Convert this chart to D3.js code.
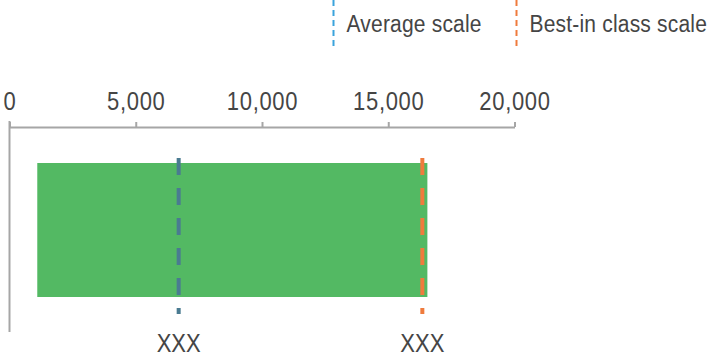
<!DOCTYPE html>
<html>
<head>
<meta charset="utf-8">
<script src="https://cdn.jsdelivr.net/npm/d3@7"></script>
<style>
  html, body { margin: 0; padding: 0; background: #ffffff; }
  svg { display: block; }
  text { font-family: "Liberation Sans", Arial, sans-serif; fill: #454545; }
</style>
</head>
<body>
<svg id="chart" width="712" height="361"></svg>
<script>
// Scale range shown on the axis
const axisTicks = [0, 5000, 10000, 15000, 20000];
// Green range bar: start and end values
const barRange = [1100, 16550];
// Reference markers
const markerNames = ["Average scale", "Best-in class scale"];
const markerValues = [6700, 16350];
const markerLabels = ["XXX", "XXX"];
const markerColors = ["#4a7b91", "#ef7b3d"];
const legendColors = ["#3ba3dc", "#ef7b3d"];

const svg = d3.select("#chart");
const x = d3.scaleLinear().domain([0, 20000]).range([9.5, 514.5]);

const axisY = 127;
const barTop = 163, barBottom = 297;
const lineTop = 158, lineBottom = 314;
const textStretch = 1.14; // slightly tall lettering

// Top axis with short upward ticks
const axis = d3.axisTop(x)
  .tickValues(axisTicks)
  .tickSize(5)
  .tickSizeOuter(0)
  .tickPadding(12)
  .tickFormat(d3.format(","));

const gAxis = svg.append("g").attr("transform", `translate(0,${axisY})`).call(axis);
gAxis.select(".domain").attr("stroke", "#a6a6a6").attr("stroke-width", 2);
gAxis.selectAll(".tick line").attr("stroke", "#a6a6a6").attr("stroke-width", 2);
gAxis.selectAll(".tick text")
  .attr("fill", "#454545")
  .attr("y", 0)
  .attr("dy", null)
  .attr("transform", `translate(0,-17) scale(1,${textStretch})`)
  .style("font-family", '"Liberation Sans", Arial, sans-serif')
  .style("font-size", "22px")
  .style("letter-spacing", "0.7px");

// Left vertical rule
svg.append("line")
  .attr("x1", x(0)).attr("x2", x(0))
  .attr("y1", axisY - 6).attr("y2", 332)
  .attr("stroke", "#a6a6a6").attr("stroke-width", 2);

// Range bar
svg.append("rect")
  .attr("x", x(barRange[0]))
  .attr("y", barTop)
  .attr("width", x(barRange[1]) - x(barRange[0]))
  .attr("height", barBottom - barTop)
  .attr("fill", "#53b963");

// Dashed marker lines
svg.selectAll("line.marker")
  .data(markerValues)
  .join("line")
  .attr("class", "marker")
  .attr("x1", d => x(d)).attr("x2", d => x(d))
  .attr("y1", lineTop).attr("y2", lineBottom)
  .attr("stroke", (d, i) => markerColors[i])
  .attr("stroke-width", 4)
  .attr("stroke-dasharray", "17,13");

// Marker labels
svg.selectAll("text.mlabel")
  .data(markerValues)
  .join("text")
  .attr("class", "mlabel")
  .attr("transform", d => `translate(${x(d)},352) scale(1,${textStretch})`)
  .attr("text-anchor", "middle")
  .style("font-size", "22px")
  .text((d, i) => markerLabels[i]);

// Legend
const legendX = [333.5, 516.5];
const legend = svg.selectAll("g.legend")
  .data(markerNames)
  .join("g")
  .attr("class", "legend")
  .attr("transform", (d, i) => `translate(${legendX[i]},0)`);

legend.append("line")
  .attr("x1", 0).attr("x2", 0)
  .attr("y1", 0).attr("y2", 47)
  .attr("stroke", (d, i) => legendColors[i])
  .attr("stroke-width", 2)
  .attr("stroke-dasharray", "6,4");

legend.append("text")
  .attr("transform", `translate(13,32) scale(1,${textStretch})`)
  .style("font-size", "21px")
  .style("letter-spacing", "0.2px")
  .text(d => d);
</script>
</body>
</html>
